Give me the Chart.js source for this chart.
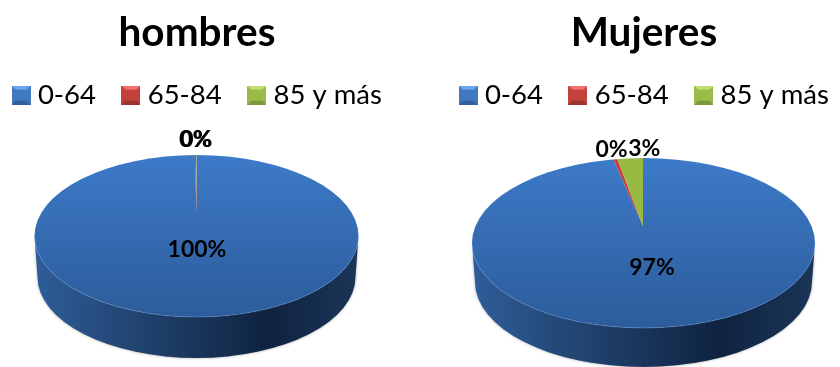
<!DOCTYPE html>
<html lang="es">
<head>
<meta charset="utf-8">
<title>hombres / Mujeres</title>
<style>
  html, body { margin: 0; background: #fff; }
  body { width: 840px; height: 367px; overflow: hidden; position: relative; }
  canvas { position: absolute; top: 0; }
  #hombres { left: -40px; }
  #mujeres { left: 407px; }
</style>
</head>
<body>
<canvas id="hombres" width="480" height="367"></canvas>
<canvas id="mujeres" width="480" height="367"></canvas>

<script src="https://cdn.jsdelivr.net/npm/chart.js/dist/chart.umd.min.js"></script>
<script>
// data
const categories = ['0-64', '65-84', '85 y más'];
const hombresValues = [99.8, 0.15, 0.05];
const mujeresValues = [97, 0.4, 2.6];

const FONT = 'Lato';
const squash = 0.43;

// little bevelled legend squares
function swatch(mid, light, dark) {
  const c = document.createElement('canvas');
  c.width = 19; c.height = 19;
  const g = c.getContext('2d');
  g.fillStyle = mid;
  g.fillRect(0, 0, 19, 19);
  g.fillStyle = light;
  g.beginPath(); g.moveTo(0, 0); g.lineTo(19, 0); g.lineTo(15, 4); g.lineTo(4, 4); g.fill();
  g.fillStyle = dark;
  g.beginPath(); g.moveTo(0, 19); g.lineTo(19, 19); g.lineTo(15, 15); g.lineTo(4, 15); g.fill();
  return c;
}
const swatches = [
  swatch('#4079c0', '#69a6ee', '#31619c'),
  swatch('#c2413d', '#f2716c', '#9c3330'),
  swatch('#9abb48', '#bfe070', '#7d983a')
];

// fake 3D: side wall, squashed arcs clipped to the top ellipse, then the labels
const pie3d = {
  id: 'pie3d',
  afterLayout(chart) {
    // title sits a little left of the legend centre
    chart.titleBlock.left -= 3;
    chart.titleBlock.right -= 3;
  },
  beforeDatasetsDraw(chart, args, o) {
    const ctx = chart.ctx;
    ctx.save();
    ctx.shadowColor = 'rgba(0,0,0,0.35)';
    ctx.shadowBlur = 3;
    const side = ctx.createLinearGradient(o.cx - o.rx, 0, o.cx + o.rx, 0);
    side.addColorStop(0, '#2e5d99');
    side.addColorStop(0.3, '#224572');
    side.addColorStop(0.72, '#0f2340');
    side.addColorStop(1, '#1b3558');
    ctx.fillStyle = side;
    ctx.beginPath();
    ctx.ellipse(o.cx, o.cy, o.rx, o.ry, 0, Math.PI, 0, true);
    ctx.lineTo(o.cx + o.rx - 3, o.cy + o.depth);
    ctx.ellipse(o.cx, o.cy + o.depth, o.rx - 3, o.ry, 0, 0, Math.PI, false);
    ctx.closePath();
    ctx.fill();
    ctx.restore();
  },
  beforeDatasetDraw(chart, args, o) {
    const ctx = chart.ctx;
    const arc = args.meta.data[0];
    ctx.save();
    ctx.beginPath();
    ctx.ellipse(o.cx, o.cy, o.rx, o.ry, 0, 0, Math.PI * 2);
    ctx.clip();
    ctx.translate(o.tipX, o.tipY);
    ctx.scale(1, squash);
    ctx.translate(-arc.x, -arc.y);
  },
  afterDatasetDraw(chart, args, o) {
    const ctx = chart.ctx;
    ctx.restore();
    ctx.save();
    ctx.strokeStyle = 'rgba(110,160,225,0.4)';
    ctx.lineWidth = 1;
    ctx.beginPath();
    ctx.ellipse(o.cx, o.cy, o.rx, o.ry, 0, 0, Math.PI);
    ctx.stroke();
    ctx.restore();
  },
  afterDatasetsDraw(chart, args, o) {
    const ctx = chart.ctx;
    const values = chart.data.datasets[0].data;
    const total = values.reduce((a, b) => a + b, 0);
    ctx.save();
    ctx.font = 'bold 23px ' + FONT;
    ctx.fillStyle = '#000';
    ctx.textAlign = 'center';
    ctx.textBaseline = 'middle';
    chart.getDatasetMeta(0).data.forEach((arc, i) => {
      const mid = (arc.startAngle + arc.endAngle) / 2;
      const d = (values[i] > 50 ? o.innerLabel : o.outerLabel) * o.rx;
      const x = o.tipX + Math.cos(mid) * d + o.nudge[i];
      const y = o.tipY + Math.sin(mid) * d * squash;
      ctx.fillText(Math.round(values[i] / total * 100) + '%', x, y);
    });
    ctx.restore();
  }
};

function makePie(id, title, values, geom) {
  const c = document.getElementById(id);
  return new Chart(c, {
    type: 'pie',
    plugins: [pie3d],
    data: {
      labels: categories,
      datasets: [{
        data: values,
        radius: 420,
        borderWidth: 0,
        clip: 3000,
        backgroundColor(ctx) {
          const chart = ctx.chart;
          if (!chart.chartArea || ctx.dataIndex !== 0) {
            return ['#3c78c4', '#c8403c', '#98ba42'][ctx.dataIndex];
          }
          // gradient runs in the unsquashed space of the arcs
          const mid = (chart.chartArea.top + chart.chartArea.bottom) / 2;
          const toY = y => mid + (y - geom.tipY) / squash;
          const g = chart.ctx.createLinearGradient(0, toY(geom.cy - geom.ry), 0, toY(geom.cy + geom.ry));
          g.addColorStop(0, '#3d7ac8');
          g.addColorStop(1, '#2c5c9b');
          return g;
        }
      }]
    },
    options: {
      responsive: false,
      animation: false,
      events: [],
      plugins: {
        title: {
          display: true,
          text: title,
          color: '#000',
          font: { family: FONT, size: 40.5, weight: 'bold', lineHeight: 0.8 },
          padding: { top: 17, bottom: 0 }
        },
        legend: {
          position: 'top',
          labels: {
            color: '#000',
            font: { family: FONT, size: 27.5 },
            usePointStyle: true,
            pointStyleWidth: 6,
            padding: 32,
            generateLabels: () => categories.map((text, i) => ({
              text, index: i, pointStyle: swatches[i], lineWidth: 0, hidden: false
            }))
          }
        },
        tooltip: { enabled: false },
        pie3d: geom
      }
    }
  });
}

makePie('hombres', 'hombres', hombresValues, {
  cx: 236.5, cy: 236, rx: 162, ry: 81, depth: 41,
  tipX: 236.5, tipY: 213, innerLabel: 0.52, outerLabel: 1.06, nudge: [0, 0, 0]
});
makePie('mujeres', 'Mujeres', mujeresValues, {
  cx: 236.5, cy: 243, rx: 171.5, ry: 85, depth: 39,
  tipX: 236, tipY: 226, innerLabel: 0.56, outerLabel: 1.05, nudge: [0, 0, 16]
});
</script>
</body>
</html>
